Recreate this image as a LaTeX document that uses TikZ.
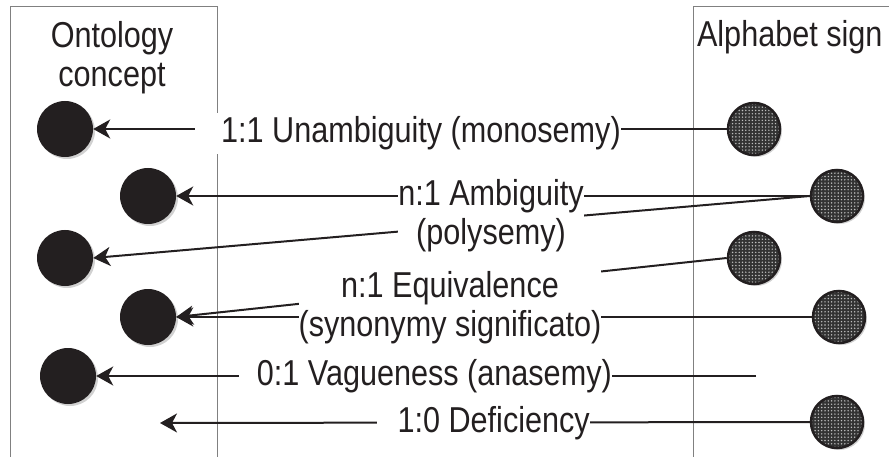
\documentclass[tikz,border=0pt]{standalone}
\usepackage{fontspec}
\setmainfont{Liberation Sans}[FakeStretch=0.85]
\usepackage{tikz}
\usetikzlibrary{arrows.meta}
\usetikzlibrary{patterns.meta}
\usetikzlibrary{shadows}
\definecolor{ink}{HTML}{231F20}
\tikzset{frame/.style={draw=black!50, line width=1pt}}
\tikzset{concept/.style={circle, fill=ink, minimum size=56pt, inner sep=0pt,
    drop shadow={shadow xshift=2pt, shadow yshift=-2pt, fill=black!18, opacity=1}}}
\tikzset{sign/.style={circle, draw=ink, line width=2.5pt, minimum size=52pt, inner sep=0pt,
    drop shadow={shadow xshift=2pt, shadow yshift=-2pt, fill=black!18, opacity=1},
    preaction={fill=black!80}, pattern={Dots[radius=0.8pt, distance=3.3pt]}, pattern color=black!25}}
\tikzset{link/.style={draw=ink, line width=2pt, -{Stealth[length=17pt, width=19pt, inset=5pt]}}}
\tikzset{lbl/.style={fill=white, inner xsep=0pt, inner ysep=4pt}}

\begin{document}
\begin{tikzpicture}[x=1pt, y=-1pt, font=\fontsize{36}{39}\selectfont, text=ink]
  \useasboundingbox (0,0) rectangle (889,457);
  % columns
  \draw[frame] (10,457) -- (10,7) -- (217,7) -- (217,457);
  \draw[frame] (889,7) -- (693,7) -- (693,457);
  \node[align=center] (onto) at (112,58) {Ontology\\concept};
  \node[anchor=base east] (alpha) at (886,47) {Alphabet sign};
  \foreach \x/\y/\lab in {
    65/129/1,
    148/196/2,
    65/258/3,
    148/317/4,
    68/376/5%
  } {
    \node[concept] (c\lab) at (\x, \y) {};
  }
  \foreach \x/\y/\lab in {
    754/129/1,
    837/196/2,
    754/258/3,
    839/317/4,
    837/422/5%
  } {
    \node[sign] (s\lab) at (\x, \y) {};
  }
  \coordinate (vend) at (756,376);
  \coordinate (dend) at (160,423);
  \foreach \u/\v in {
    s1.west/c1.east,
    s2.west/c2.east,
    s2.west/c3.east,
    s3.west/c4.east,
    s4.west/c4.east,
    vend/c5.east,
    s5.west/dend%
  }{
    \draw[link] (\u) -- (\v);
  }
  % labels
  \node[lbl, anchor=base east] (l1) at (621,143) {\hspace*{26pt}1:1 Unambiguity (monosemy)};
  \node[lbl, align=center] (l2) at (491,216) {n:1 Ambiguity\\(polysemy)};
  \node[lbl, align=center] (l3) at (450,308) {n:1 Equivalence\\(synonymy significato)};
  \node[lbl, anchor=base east] (l5) at (612,385) {\hspace*{18pt}0:1 Vagueness (anasemy)};
  \node[lbl, anchor=base east] (l6) at (590,432) {\hspace*{21pt}1:0 Deficiency};
\end{tikzpicture}
\end{document}
